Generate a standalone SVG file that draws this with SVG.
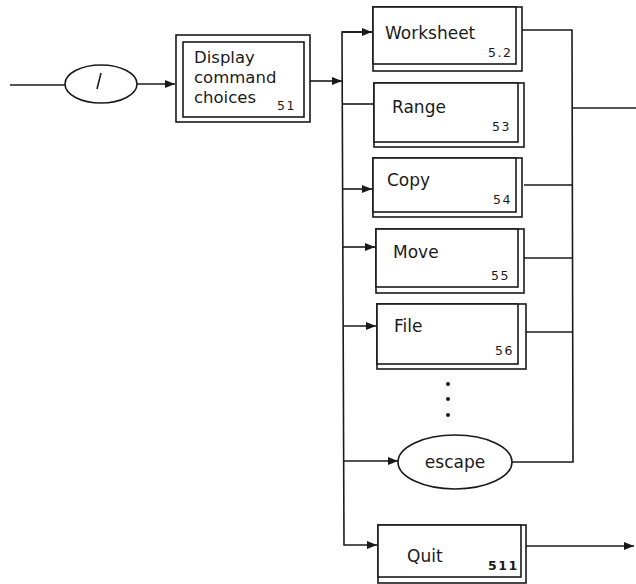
<svg xmlns="http://www.w3.org/2000/svg" width="636" height="584" viewBox="0 0 636 584">
<style>
.ln{fill:none;stroke:#1a1a1a;stroke-width:1.6}
.bx{fill:#fff;stroke:#1a1a1a;stroke-width:1.6}
.t{font-family:"DejaVu Sans","Liberation Sans",sans-serif;font-size:17px;fill:#1a1a1a}
.d{font-size:16.5px}
.n{font-family:"DejaVu Sans","Liberation Sans",sans-serif;font-size:12.5px;fill:#1a1a1a;letter-spacing:1.5px}
</style>
<defs>
<marker id="ah" viewBox="0 0 10 8" refX="10" refY="4" markerWidth="10" markerHeight="8" markerUnits="userSpaceOnUse" orient="auto">
<path d="M0,0 L10,4 L0,8 Z" fill="#1a1a1a"/>
</marker>
</defs>
<rect width="636" height="584" fill="#fff"/>
<g id="connectors">
<line class="ln" x1="10" y1="85" x2="65" y2="85"/>
<line class="ln" x1="137" y1="84" x2="175" y2="84" marker-end="url(#ah)"/>
<line class="ln" x1="310" y1="81" x2="342" y2="81" marker-end="url(#ah)"/>
<polyline class="ln" points="372,32 342,32 344,545 377,545" marker-end="url(#ah)"/>
<line class="ln" x1="342" y1="32" x2="372" y2="32" marker-end="url(#ah)"/>
<line class="ln" x1="342" y1="104" x2="374" y2="104"/>
<line class="ln" x1="343" y1="189" x2="372" y2="189" marker-end="url(#ah)"/>
<line class="ln" x1="343" y1="247" x2="375" y2="247" marker-end="url(#ah)"/>
<line class="ln" x1="343" y1="326" x2="376" y2="326" marker-end="url(#ah)"/>
<line class="ln" x1="344" y1="461" x2="398" y2="461" marker-end="url(#ah)"/>
<polyline class="ln" points="522,30 572,30 573,462 512,462"/>
<line class="ln" x1="524" y1="185" x2="572" y2="185"/>
<line class="ln" x1="524" y1="258" x2="572" y2="258"/>
<line class="ln" x1="526" y1="332" x2="573" y2="332"/>
<line class="ln" x1="572" y1="108" x2="636" y2="108"/>
<line class="ln" x1="526" y1="546" x2="634" y2="546" marker-end="url(#ah)"/>
</g>
<g id="slash">
<ellipse class="bx" cx="101" cy="84" rx="36" ry="19"/>
<line class="ln" x1="101" y1="73" x2="97" y2="89" stroke-width="2.2"/>
</g>
<g id="display">
<rect class="bx" x="176" y="35" width="134" height="87"/>
<rect class="bx" x="183" y="42" width="121" height="75"/>
<text class="t d" x="194" y="63">Display</text>
<text class="t d" x="194" y="83">command</text>
<text class="t d" x="194" y="103">choices</text>
<text class="n" x="277" y="110">51</text>
</g>
<g id="worksheet">
<rect class="bx" x="373" y="7" width="149" height="64"/>
<rect class="bx" x="373" y="7" width="143" height="57"/>
<text class="t" x="385" y="39">Worksheet</text>
<text class="n" x="488" y="57">5.2</text>
</g>
<g id="range">
<rect class="bx" x="374" y="83" width="150" height="64"/>
<rect class="bx" x="374" y="83" width="144" height="59"/>
<text class="t" x="392" y="113">Range</text>
<text class="n" x="492" y="131">53</text>
</g>
<g id="copy">
<rect class="bx" x="373" y="158" width="149" height="59"/>
<rect class="bx" x="373" y="158" width="143" height="54"/>
<text class="t" x="387" y="186">Copy</text>
<text class="n" x="493" y="204">54</text>
</g>
<g id="move">
<rect class="bx" x="376" y="229" width="148" height="64"/>
<rect class="bx" x="376" y="229" width="142" height="58"/>
<text class="t" x="393" y="258">Move</text>
<text class="n" x="491" y="280">55</text>
</g>
<g id="file">
<rect class="bx" x="377" y="304" width="149" height="65"/>
<rect class="bx" x="377" y="304" width="141" height="60"/>
<text class="t" x="394" y="332">File</text>
<text class="n" x="495" y="355">56</text>
</g>
<g id="dots" fill="#1a1a1a">
<circle cx="448" cy="384" r="2"/>
<circle cx="448" cy="399" r="2"/>
<circle cx="448" cy="415" r="2"/>
</g>
<g id="escape">
<ellipse class="bx" cx="455" cy="462" rx="57" ry="27"/>
<text class="t" x="455" y="468" text-anchor="middle">escape</text>
</g>
<g id="quit">
<rect class="bx" x="378" y="525" width="148" height="58"/>
<rect class="bx" x="378" y="525" width="143" height="52"/>
<text class="t" x="407" y="562">Quit</text>
<text class="n" x="488" y="570" font-weight="bold">511</text>
</g>
</svg>
